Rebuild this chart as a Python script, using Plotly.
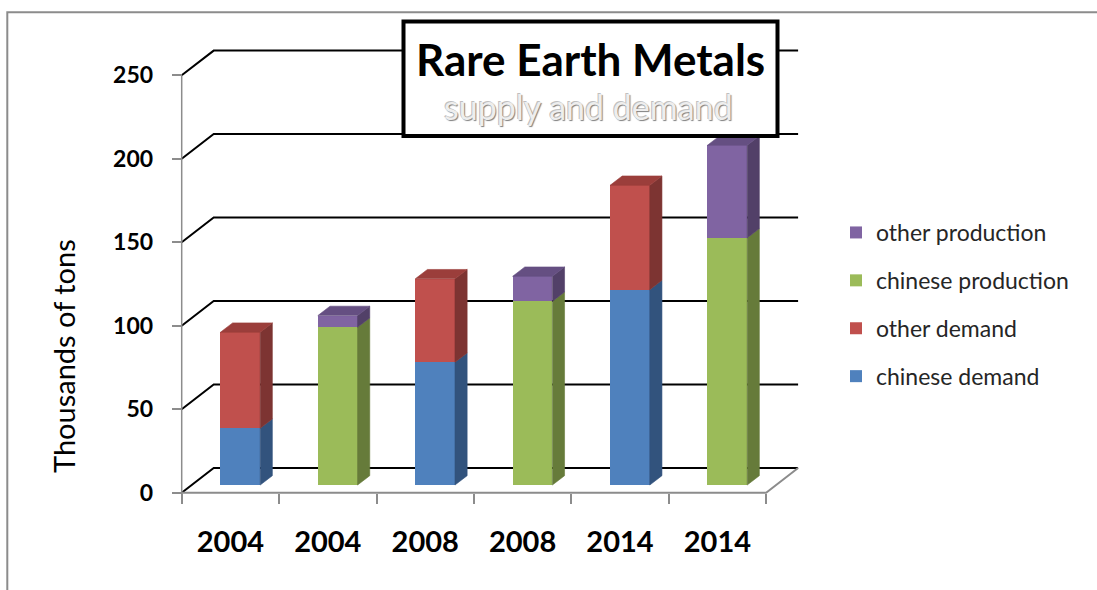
import plotly.graph_objects as go

# ---- data (thousands of tons) ----
years = ["2004", "2004", "2008", "2008", "2014", "2014"]
chinese_demand = [34, 73.5, 117]
other_demand = [57.5, 50, 62.5]
chinese_production = [94.5, 110, 148]
other_production = [7, 15, 55.5]
y_ticks = [0, 50, 100, 150, 200, 250]

series = [
    ("chinese demand", chinese_demand, 0, "#4F81BD", "#32537D", "#4573A9"),
    ("other demand", other_demand, 0, "#C0504D", "#7D3432", "#9B3E3B"),
    ("chinese production", chinese_production, 1, "#9BBB59", "#667B3A", "#7F9B48"),
    ("other production", other_production, 1, "#8064A2", "#524068", "#654F82"),
]

# ---- page / plot-area geometry ----
W, H = 1097, 590
ML, MR, MT, MB = 170, 287, 30, 92
PW, PH = W - ML - MR, H - MT - MB
PX_X = 97.4          # pixels per category
PX_Y = 1.6696        # pixels per thousand tons
ZERO_PX = 492.7      # page y of the front floor edge
AXIS_PX = 181.7      # page x of the front value axis

X0 = -0.5 - (AXIS_PX - ML) / PX_X
X1 = X0 + PW / PX_X
Y0 = -((H - MB) - ZERO_PX) / PX_Y
Y1 = Y0 + PH / PX_Y

# oblique depth of the chart box, and where the bars sit inside it
DX = 32 / PX_X
DY = 24.7 / PX_Y
F0, FD = 0.31, 0.38
BW = 0.408
N = len(years)


def paper_x(p):
    return (p - ML) / PW


def paper_y(p):
    return (H - MB - p) / PH


fig = go.Figure()

# stacked bars: front faces as bars, side and top faces as filled polygons
totals = [0.0] * N
sides = {}
tops = {}
for rank, (name, vals, parity, front, side_c, top_c) in enumerate(series):
    xs, bases, hs = [], [], []
    side_x, side_y = [], []
    for k, v in enumerate(vals):
        i = 2 * k + parity
        base = totals[i]
        xc = i + F0 * DX
        xs.append(xc)
        bases.append(F0 * DY + base)
        hs.append(v)
        xa, xb = xc - BW / 2, xc + BW / 2
        ya, yb = F0 * DY + base, F0 * DY + base + v
        ddx, ddy = FD * DX, FD * DY
        side_x += [xb, xb + ddx, xb + ddx, xb, xb, None]
        side_y += [ya, ya + ddy, yb + ddy, yb, ya, None]
        totals[i] = base + v
        tops[i] = (xa, xb, yb, ddx, ddy, top_c)
    sides[name] = (side_x, side_y, side_c)
    fig.add_trace(go.Bar(
        x=xs, y=hs, base=bases, width=BW, name=name,
        marker=dict(color=front, line=dict(width=0)),
        legendgroup=name, legendrank=100 - rank, hoverinfo="skip",
    ))

for name, (sx, sy, c) in sides.items():
    fig.add_trace(go.Scatter(
        x=sx, y=sy, mode="lines", fill="toself", fillcolor=c,
        line=dict(color=c, width=0.6), showlegend=False, hoverinfo="skip",
    ))

for i in sorted(tops):
    xa, xb, yb, ddx, ddy, c = tops[i]
    fig.add_trace(go.Scatter(
        x=[xa, xb, xb + ddx, xa + ddx, xa], y=[yb, yb, yb + ddy, yb + ddy, yb],
        mode="lines", fill="toself", fillcolor=c,
        line=dict(color=c, width=0.6), showlegend=False, hoverinfo="skip",
    ))

shapes = []
# back-wall gridlines with their side-wall diagonals
for v in y_ticks:
    shapes.append(dict(
        type="path", xref="x", yref="y", layer="below",
        path=f"M {-0.5},{v} L {-0.5 + DX},{v + DY} L {N - 0.5 + DX},{v + DY}",
        line=dict(color="black", width=2),
    ))
# floor outline and front value axis
shapes.append(dict(
    type="path", xref="x", yref="y", layer="below",
    path=f"M {-0.5},0 L {N - 0.5},0 L {N - 0.5 + DX},{DY}",
    line=dict(color="#8c8c8c", width=2),
))
shapes.append(dict(
    type="line", xref="x", yref="y", layer="below",
    x0=-0.5, x1=-0.5, y0=0, y1=y_ticks[-1],
    line=dict(color="#8c8c8c", width=1.5),
))
# outer chart frame
shapes.append(dict(
    type="rect", xref="paper", yref="paper", layer="above",
    x0=paper_x(7.3), x1=paper_x(1200), y0=paper_y(12.3), y1=paper_y(700),
    line=dict(color="#8c8c8c", width=2), fillcolor="rgba(0,0,0,0)",
))
# title box
shapes.append(dict(
    type="rect", xref="paper", yref="paper", layer="above",
    x0=paper_x(403.5), x1=paper_x(777.5), y0=paper_y(21.5), y1=paper_y(136),
    line=dict(color="black", width=4), fillcolor="white",
))

annotations = [
    dict(text="Rare Earth Metals", xref="paper", yref="paper",
         x=paper_x(590), y=paper_y(59), xanchor="center", yanchor="middle",
         showarrow=False,
         font=dict(family="Lato", size=44, color="black", weight="bold")),
    dict(text="supply and demand", xref="paper", yref="paper",
         x=paper_x(588), y=paper_y(107), xanchor="center", yanchor="middle",
         showarrow=False,
         font=dict(family="Lato", size=34, color="#eeeeee",
                   shadow="1px 1px 1px #7f7f7f, -1px -1px 0px #c0c0c0")),
    dict(text="Thousands of tons", xref="paper", yref="paper",
         x=paper_x(63), y=paper_y(356), xanchor="center", yanchor="middle",
         showarrow=False, textangle=-90,
         font=dict(family="Lato", size=29, color="black")),
]

fig.update_layout(
    width=W, height=H,
    margin=dict(l=ML, r=MR, t=MT, b=MB, autoexpand=False),
    paper_bgcolor="white", plot_bgcolor="white",
    barmode="overlay", bargap=0,
    shapes=shapes, annotations=annotations,
    showlegend=True,
    legend=dict(
        x=paper_x(836), y=paper_y(304.5), xanchor="left", yanchor="middle",
        traceorder="grouped", tracegroupgap=15,
        font=dict(family="Lato", size=23, color="#262626"),
        bgcolor="rgba(0,0,0,0)",
    ),
    xaxis=dict(
        range=[X0, X1], anchor="free", position=(0 - Y0) / (Y1 - Y0),
        tickmode="array", tickvals=list(range(N)), ticktext=years,
        ticks="", showline=False, showgrid=False, zeroline=False,
        ticklabelstandoff=29,
        tickfont=dict(family="Lato", size=29, color="black", weight="bold"),
        minor=dict(tickmode="array", tickvals=[i - 0.5 for i in range(N + 1)],
                   ticks="outside", ticklen=10, tickwidth=1.5,
                   tickcolor="#8c8c8c", showgrid=False),
    ),
    yaxis=dict(
        range=[Y0, Y1], anchor="free", position=(-0.5 - X0) / (X1 - X0),
        tickmode="array", tickvals=y_ticks,
        ticks="outside", ticklen=10, tickwidth=1.5, tickcolor="#8c8c8c",
        showline=False, showgrid=False, zeroline=False,
        ticklabelstandoff=14,
        tickfont=dict(family="Lato", size=23, color="black", weight="bold"),
    ),
)

fig.write_html("out.html")
